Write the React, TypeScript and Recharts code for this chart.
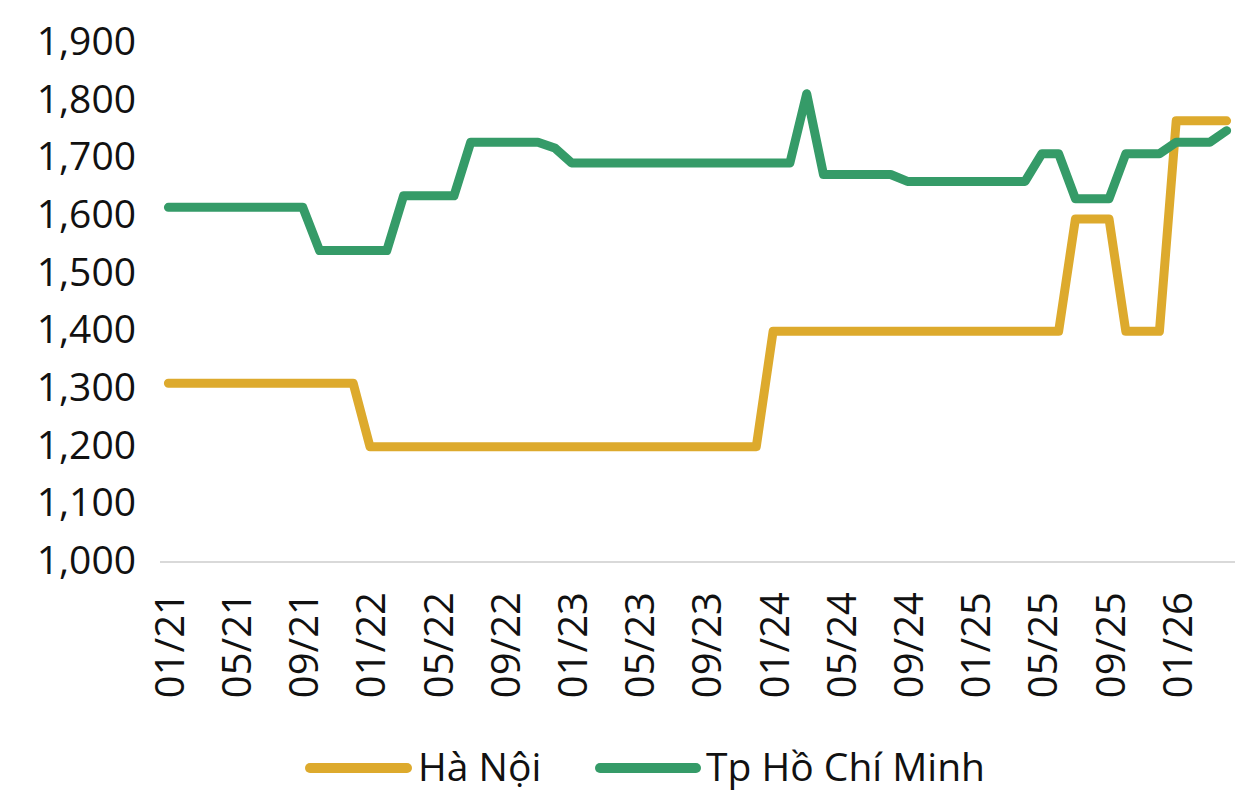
import React from "react";
import { LineChart, Line, XAxis, YAxis, Legend } from "recharts";

const categories = [
  "01/21","02/21","03/21","04/21","05/21","06/21","07/21","08/21","09/21","10/21","11/21","12/21",
  "01/22","02/22","03/22","04/22","05/22","06/22","07/22","08/22","09/22","10/22","11/22","12/22",
  "01/23","02/23","03/23","04/23","05/23","06/23","07/23","08/23","09/23","10/23","11/23","12/23",
  "01/24","02/24","03/24","04/24","05/24","06/24","07/24","08/24","09/24","10/24","11/24","12/24",
  "01/25","02/25","03/25","04/25","05/25","06/25","07/25","08/25","09/25","10/25","11/25","12/25",
  "01/26","02/26","03/26","04/26",
];

const haNoi = [
  1310,1310,1310,1310,1310,1310,1310,1310,1310,1310,1310,1310,
  1200,1200,1200,1200,1200,1200,1200,1200,1200,1200,1200,1200,
  1200,1200,1200,1200,1200,1200,1200,1200,1200,1200,1200,1200,
  1400,1400,1400,1400,1400,1400,1400,1400,1400,1400,1400,1400,
  1400,1400,1400,1400,1400,1400,1595,1595,1595,1400,1400,1400,
  1765,1765,1765,1765,
];

const hoChiMinh = [
  1615,1615,1615,1615,1615,1615,1615,1615,1615,1540,1540,1540,
  1540,1540,1635,1635,1635,1635,1728,1728,1728,1728,1728,1718,
  1692,1692,1692,1692,1692,1692,1692,1692,1692,1692,1692,1692,
  1692,1692,1812,1672,1672,1672,1672,1672,1660,1660,1660,1660,
  1660,1660,1660,1660,1708,1708,1630,1630,1630,1708,1708,1708,
  1728,1728,1728,1748,
];

const yTicks = [1000, 1100, 1200, 1300, 1400, 1500, 1600, 1700, 1800, 1900];

const seriesNames = ["Hà Nội", "Tp Hồ Chí Minh"];
const seriesColors = ["#DDAA2D", "#359B68"];

const data = categories.map((c, i) => ({
  month: c,
  hn: haNoi[i],
  hcm: hoChiMinh[i],
}));

const FONT = "'Open Sans', 'Noto Sans', sans-serif";

const XTick = (props: any) => {
  const { x, y, payload } = props;
  return (
    <text
      x={x}
      y={y}
      transform={`rotate(-90 ${x} ${y})`}
      textAnchor="end"
      dominantBaseline="central"
      fontFamily={FONT}
      fontSize={40}
      fill="#111"
    >
      {payload.value}
    </text>
  );
};

const LegendContent = () => (
  <svg width={1245} height={60} style={{ overflow: "visible", display: "block" }}>
    <line x1={310} y1={36} x2={407} y2={36} stroke={seriesColors[0]} strokeWidth={10} strokeLinecap="round" />
    <text x={418} y={49} fontFamily={FONT} fontSize={39} fill="#111">{seriesNames[0]}</text>
    <line x1={600} y1={36} x2={696} y2={36} stroke={seriesColors[1]} strokeWidth={10} strokeLinecap="round" />
    <text x={706} y={49} fontFamily={FONT} fontSize={39} fill="#111">{seriesNames[1]}</text>
  </svg>
);

export default function App() {
  return (
    <div style={{ position: "absolute", left: 0, top: 0, background: "#fff" }}>
      <LineChart
        width={1245}
        height={792}
        data={data}
        margin={{ top: 43, right: 10, bottom: 0, left: 0 }}
      >
        <XAxis
          dataKey="month"
          interval={3}
          tick={<XTick />}
          tickLine={false}
          tickSize={6}
          tickMargin={24}
          axisLine={{ stroke: "#d9d9d9", strokeWidth: 2 }}
          padding={{ left: 8.4, right: 8.4 }}
          height={170}
        />
        <YAxis
          domain={[1000, 1900]}
          ticks={yTicks}
          width={160}
          axisLine={false}
          tickLine={false}
          tickMargin={18}
          tickFormatter={(v: number) => v.toLocaleString("en-US")}
          tick={{ fontFamily: FONT, fontSize: 39, fill: "#111", dy: -2 }}
          interval={0}
        />
        <Legend
          verticalAlign="bottom"
          content={<LegendContent />}
          wrapperStyle={{ left: 0, width: 1245, height: 60 }}
        />
        <Line
          type="linear"
          dataKey="hn"
          name={seriesNames[0]}
          stroke={seriesColors[0]}
          strokeWidth={9}
          strokeLinejoin="round"
          strokeLinecap="round"
          dot={false}
          activeDot={false}
          isAnimationActive={false}
        />
        <Line
          type="linear"
          dataKey="hcm"
          name={seriesNames[1]}
          stroke={seriesColors[1]}
          strokeWidth={9}
          strokeLinejoin="round"
          strokeLinecap="round"
          dot={false}
          activeDot={false}
          isAnimationActive={false}
        />
      </LineChart>
    </div>
  );
}
